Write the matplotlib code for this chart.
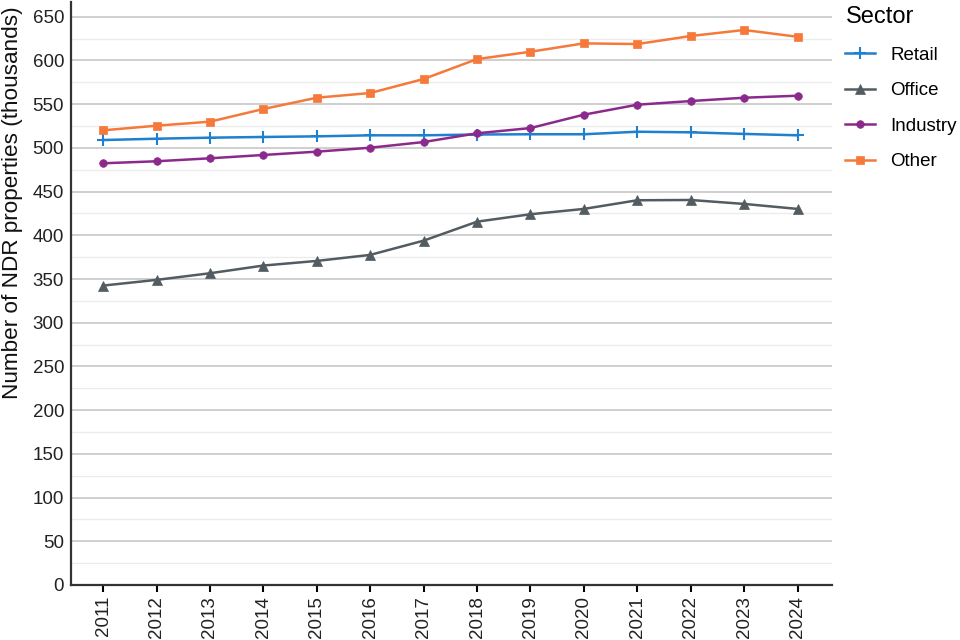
import numpy as np
import matplotlib

matplotlib.use("Agg")
import matplotlib.pyplot as plt
from matplotlib.ticker import MultipleLocator

plt.rcParams["font.family"] = ["Liberation Sans", "DejaVu Sans"]

YEARS = list(range(2011, 2025))
RETAIL = [509, 510.5, 511.7, 512.5, 513.2, 514.4, 514.4, 515.3, 515.6, 515.6, 518.5, 517.8, 516, 514.4]
OFFICE = [342.5, 349, 356.6, 365.4, 370.7, 377.6, 393.9, 415.6, 424.1, 430.2, 440.1, 440.4, 435.9, 430.2]
INDUSTRY = [482.4, 484.7, 488.1, 491.9, 495.7, 500.2, 506.7, 516.7, 522.7, 538, 549.4, 553.6, 557.4, 559.7]
OTHER = [520.1, 525.4, 530, 544.5, 557.4, 562.8, 578.8, 601.6, 610, 619.6, 618.8, 628, 634.9, 627.1]

SERIES = [
    ("Retail", RETAIL, "#1f80d0", "+", 9),
    ("Office", OFFICE, "#535c60", "^", 7),
    ("Industry", INDUSTRY, "#8b2a8c", "o", 5.5),
    ("Other", OTHER, "#f5793a", "s", 6),
]

fig = plt.figure(figsize=(9.6, 6.4), dpi=100)
ax = fig.add_axes([0.074, 0.086, 0.793, 0.911])

for name, vals, color, marker, ms in SERIES:
    ax.plot(YEARS, vals, color=color, marker=marker, markersize=ms,
            linewidth=1.8, markeredgewidth=1.5 if marker == "+" else 0.5,
            label=name, zorder=3)

ax.set_xlim(2010.4, 2024.65)
ax.set_ylim(0, 667)
ax.set_xticks(YEARS)
ax.set_xticklabels([str(y) for y in YEARS], rotation=90)
ax.yaxis.set_major_locator(MultipleLocator(50))
ax.yaxis.set_minor_locator(MultipleLocator(25))

ax.grid(axis="y", which="major", color="#cccccc", linewidth=1.3)
ax.grid(axis="y", which="minor", color="#ececec", linewidth=1.0)
ax.set_axisbelow(True)

for side in ("top", "right"):
    ax.spines[side].set_visible(False)
for side in ("left", "bottom"):
    ax.spines[side].set_color("#333333")
    ax.spines[side].set_linewidth(1.6)

ax.tick_params(axis="y", which="both", length=0, labelsize=13.5, pad=5)
ax.tick_params(axis="x", length=5, width=1.5, labelsize=13.5, pad=3)
for lbl in ax.get_xticklabels() + ax.get_yticklabels():
    lbl.set_color("#222222")

# label sits above the panel centre in the original, hug the left edge
ax.set_ylabel("Number of NDR properties (thousands)", fontsize=16.2, color="#111111")
ax.yaxis.set_label_coords(-0.063, 0.655)

leg = ax.legend(title="Sector", loc="upper left", bbox_to_anchor=(1.0, 1.015),
                frameon=False, fontsize=13.5, title_fontsize=17,
                handlelength=1.6, handletextpad=0.8, labelspacing=0.98,
                borderaxespad=0.3)
leg._legend_box.align = "left"

fig.savefig("out.png", dpi=100)
